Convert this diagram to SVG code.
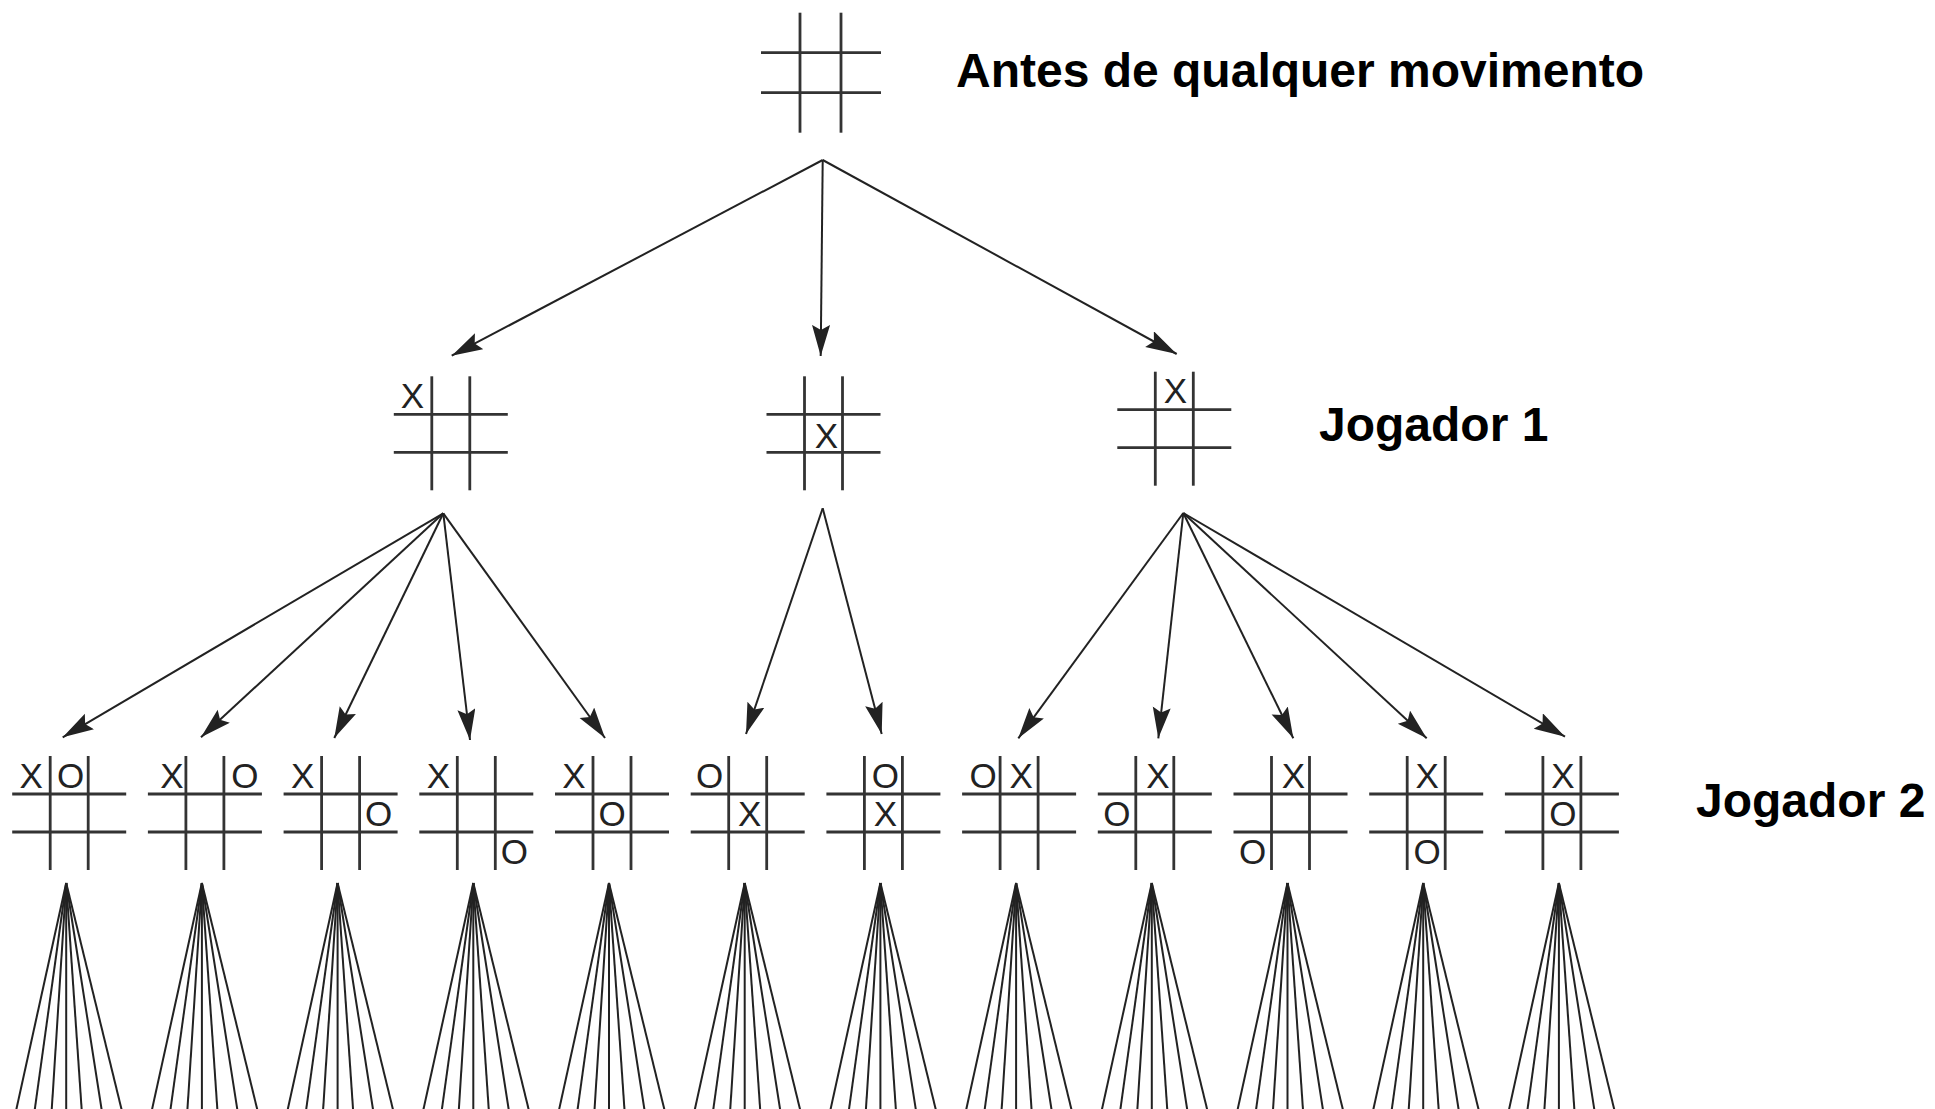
<svg xmlns="http://www.w3.org/2000/svg" xmlns:xlink="http://www.w3.org/1999/xlink" width="1935" height="1109" viewBox="0 0 1935 1109">
<style>
.g line{stroke:#333;stroke-width:2.8;fill:none}
.c{stroke:#222;stroke-width:2;fill:none}
.a{marker-end:url(#ah)}
.m{font-family:"Liberation Sans",Arial,sans-serif;font-size:35px;fill:#222;text-anchor:middle}
.lbl{font-family:"Liberation Sans",Arial,sans-serif;font-size:48px;font-weight:bold;fill:#000}
</style>
<defs>
<marker id="ah" markerUnits="userSpaceOnUse" markerWidth="32" markerHeight="20" refX="31" refY="9" orient="auto">
<path d="M0,0 L31,9 L0,18 L5,9 Z" fill="#222"/>
</marker>
<g id="grid" class="g">
<line x1="-19" y1="-57" x2="-19" y2="57"/>
<line x1="19" y1="-57" x2="19" y2="57"/>
<line x1="-57" y1="-19" x2="57" y2="-19"/>
<line x1="-57" y1="19" x2="57" y2="19"/>
</g>
<g id="fan" class="c">
<line x1="0" y1="0" x2="-50" y2="227"/>
<line x1="0" y1="0" x2="-31.5" y2="227"/>
<line x1="0" y1="0" x2="-14.5" y2="227"/>
<line x1="0" y1="0" x2="0" y2="227"/>
<line x1="0" y1="0" x2="15.5" y2="227"/>
<line x1="0" y1="0" x2="35.5" y2="227"/>
<line x1="0" y1="0" x2="55.5" y2="227"/>
</g>
</defs>
<rect width="1935" height="1109" fill="#fff"/>

<g id="root">
<g class="g">
<line x1="800" y1="12.7" x2="800" y2="132.7"/>
<line x1="841" y1="12.7" x2="841" y2="132.7"/>
<line x1="761" y1="52.7" x2="881" y2="52.7"/>
<line x1="761" y1="92.7" x2="881" y2="92.7"/>
</g>
<text class="lbl" x="956" y="87.3">Antes de qualquer movimento</text>
</g>

<g id="p1-left" transform="translate(450.8,433.3)">
<use href="#grid"/>
<text class="m" x="-38.5" y="-25.5">X</text>
</g>
<g id="p1-center" transform="translate(823.5,433.3)">
<use href="#grid"/>
<text class="m" x="3" y="15">X</text>
</g>
<g id="p1-right" transform="translate(1174.3,428.7)">
<use href="#grid"/>
<text class="m" x="1" y="-25.5">X</text>
</g>
<text id="label-j1" class="lbl" x="1319" y="441">Jogador 1</text>

<g id="b1" transform="translate(69.2,813)"><use href="#grid"/><text class="m" x="-38" y="-25.5">X</text><text class="m" x="1.5" y="-25.5">O</text></g>
<g id="b2" transform="translate(204.9,813)"><use href="#grid"/><text class="m" x="-33" y="-25.5">X</text><text class="m" x="40" y="-25.5">O</text></g>
<g id="b3" transform="translate(340.6,813)"><use href="#grid"/><text class="m" x="-38" y="-25.5">X</text><text class="m" x="38" y="12.5">O</text></g>
<g id="b4" transform="translate(476.3,813)"><use href="#grid"/><text class="m" x="-38" y="-25.5">X</text><text class="m" x="38" y="50.5">O</text></g>
<g id="b5" transform="translate(612,813)"><use href="#grid"/><text class="m" x="-38" y="-25.5">X</text><text class="m" x="0" y="12.5">O</text></g>
<g id="b6" transform="translate(747.7,813)"><use href="#grid"/><text class="m" x="-38" y="-25.5">O</text><text class="m" x="2" y="12.5">X</text></g>
<g id="b7" transform="translate(883.4,813)"><use href="#grid"/><text class="m" x="2" y="-25.5">O</text><text class="m" x="2" y="12.5">X</text></g>
<g id="b8" transform="translate(1019.1,813)"><use href="#grid"/><text class="m" x="-36" y="-25.5">O</text><text class="m" x="2" y="-25.5">X</text></g>
<g id="b9" transform="translate(1154.8,813)"><use href="#grid"/><text class="m" x="3" y="-25.5">X</text><text class="m" x="-38" y="12.5">O</text></g>
<g id="b10" transform="translate(1290.5,813)"><use href="#grid"/><text class="m" x="3" y="-25.5">X</text><text class="m" x="-38" y="50.5">O</text></g>
<g id="b11" transform="translate(1426.2,813)"><use href="#grid"/><text class="m" x="1" y="-25.5">X</text><text class="m" x="1" y="50.5">O</text></g>
<g id="b12" transform="translate(1561.9,813)"><use href="#grid"/><text class="m" x="1" y="-25.5">X</text><text class="m" x="1" y="12.5">O</text></g>
<text id="label-j2" class="lbl" x="1696" y="817">Jogador 2</text>

<g id="connectors">
<g class="c a">
<line x1="822.7" y1="160" x2="451.7" y2="355.7"/>
<line x1="822.7" y1="160" x2="820.7" y2="356"/>
<line x1="822.7" y1="160" x2="1176.7" y2="354"/>
<line x1="443.3" y1="513.3" x2="62.7" y2="737.3"/>
<line x1="443.3" y1="513.3" x2="201" y2="737.3"/>
<line x1="443.3" y1="513.3" x2="334.3" y2="738"/>
<line x1="443.3" y1="513.3" x2="470" y2="740"/>
<line x1="443.3" y1="513.3" x2="605" y2="738"/>
<line x1="822.7" y1="508.3" x2="746" y2="734"/>
<line x1="822.7" y1="508.3" x2="881.7" y2="734"/>
<line x1="1183.3" y1="513" x2="1018.3" y2="738.3"/>
<line x1="1183.3" y1="513" x2="1158.3" y2="738.3"/>
<line x1="1183.3" y1="513" x2="1293.3" y2="738.3"/>
<line x1="1183.3" y1="513" x2="1426.7" y2="738.3"/>
<line x1="1183.3" y1="513" x2="1565" y2="736.7"/>
</g>
<use href="#fan" x="66.2" y="883"/>
<use href="#fan" x="201.9" y="883"/>
<use href="#fan" x="337.6" y="883"/>
<use href="#fan" x="473.3" y="883"/>
<use href="#fan" x="609" y="883"/>
<use href="#fan" x="744.7" y="883"/>
<use href="#fan" x="880.4" y="883"/>
<use href="#fan" x="1016.1" y="883"/>
<use href="#fan" x="1151.8" y="883"/>
<use href="#fan" x="1287.5" y="883"/>
<use href="#fan" x="1423.2" y="883"/>
<use href="#fan" x="1558.9" y="883"/>
</g>
</svg>
